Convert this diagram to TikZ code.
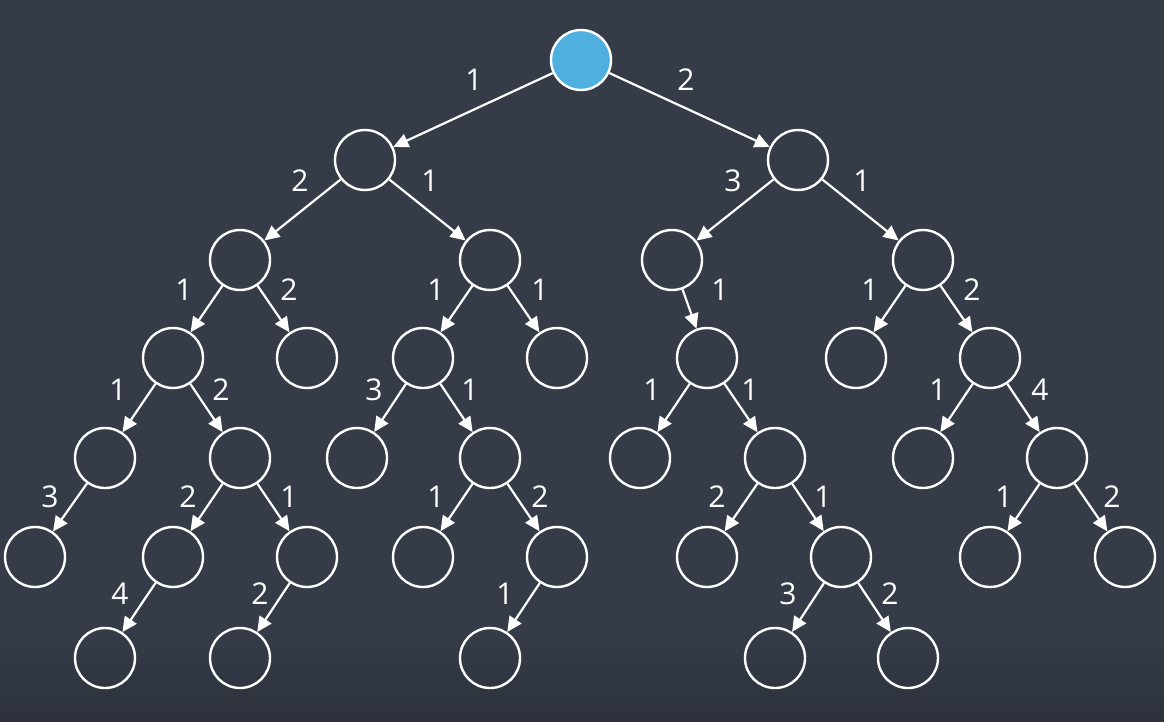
\documentclass[tikz,border=0pt]{standalone}
\usepackage{fontspec}
\setmainfont{Open Sans}
\usetikzlibrary{arrows.meta}
\definecolor{bgtop}{HTML}{353C48}
\definecolor{bgbot}{HTML}{2D323C}
\definecolor{rootblue}{HTML}{4FB0E0}
\begin{document}
\begin{tikzpicture}[x=1pt,y=-1pt,
  vert/.style={circle,draw=white,line width=2.4pt,minimum size=60pt,inner sep=0pt},
  rootvert/.style={vert,fill=rootblue},
  edge/.style={draw=white,line width=2.2pt,-{Triangle[length=15pt,width=14pt]}},
  wt/.style={text=white,font=\fontsize{30}{30}\selectfont,inner sep=0pt}]
  % background
  \fill[bgtop] (0,0) rectangle (1164,722);
  \shade[top color=bgtop,bottom color=bgbot] (0,630) rectangle (1164,722);
  \useasboundingbox (0,0) rectangle (1164,722);
  % vertices
  \node[rootvert] (r) at (581,60) {};
  \node[vert] (a) at (365,160) {};
  \node[vert] (b) at (798,160) {};
  \node[vert] (a1) at (240,260) {};
  \node[vert] (a2) at (490,260) {};
  \node[vert] (b1) at (672,260) {};
  \node[vert] (b2) at (923,260) {};
  \node[vert] (a1a) at (173,358) {};
  \node[vert] (a1b) at (307,358) {};
  \node[vert] (a2a) at (423,358) {};
  \node[vert] (a2b) at (557,358) {};
  \node[vert] (b1a) at (707,358) {};
  \node[vert] (b2a) at (856,358) {};
  \node[vert] (b2b) at (990,358) {};
  \node[vert] (c1) at (105,458) {};
  \node[vert] (c2) at (240,458) {};
  \node[vert] (c3) at (357,458) {};
  \node[vert] (c4) at (490,458) {};
  \node[vert] (c5) at (640,458) {};
  \node[vert] (c6) at (775,458) {};
  \node[vert] (c7) at (923,458) {};
  \node[vert] (c8) at (1057,458) {};
  \node[vert] (d1) at (35,557) {};
  \node[vert] (d2) at (173,557) {};
  \node[vert] (d3) at (307,557) {};
  \node[vert] (d4) at (423,557) {};
  \node[vert] (d5) at (557,557) {};
  \node[vert] (d6) at (707,557) {};
  \node[vert] (d7) at (841,557) {};
  \node[vert] (d8) at (990,557) {};
  \node[vert] (d9) at (1125,557) {};
  \node[vert] (e1) at (105,658) {};
  \node[vert] (e2) at (240,658) {};
  \node[vert] (e3) at (490,658) {};
  \node[vert] (e4) at (775,658) {};
  \node[vert] (e5) at (908,658) {};
  % edges
  \foreach \u/\v in {r/a,r/b,a/a1,a/a2,b/b1,b/b2,a1/a1a,a1/a1b,a2/a2a,a2/a2b,
    b1/b1a,b2/b2a,b2/b2b,a1a/c1,a1a/c2,a2a/c3,a2a/c4,b1a/c5,b1a/c6,b2b/c7,b2b/c8,
    c1/d1,c2/d2,c2/d3,c4/d4,c4/d5,c6/d6,c6/d7,c8/d8,c8/d9,
    d2/e1,d3/e2,d5/e3,d7/e4,d7/e5}
    \draw[edge] (\u) -- (\v);
  % weights
  \node[wt] (w1) at (474,80) {1};
  \node[wt] (w2) at (686,80) {2};
  \node[wt] (w3) at (300,181) {2};
  \node[wt] (w4) at (430,181) {1};
  \node[wt] (w5) at (733,181) {3};
  \node[wt] (w6) at (862,181) {1};
  \node[wt] (w7) at (184,290) {1};
  \node[wt] (w8) at (289,290) {2};
  \node[wt] (w9) at (436,290) {1};
  \node[wt] (w10) at (540,290) {1};
  \node[wt] (w11) at (720,290) {1};
  \node[wt] (w12) at (870,290) {1};
  \node[wt] (w13) at (972,290) {2};
  \node[wt] (w14) at (118,390) {1};
  \node[wt] (w15) at (221,390) {2};
  \node[wt] (w16) at (374,390) {3};
  \node[wt] (w17) at (470,390) {1};
  \node[wt] (w18) at (652,390) {1};
  \node[wt] (w19) at (750,390) {1};
  \node[wt] (w20) at (938,390) {1};
  \node[wt] (w21) at (1040,390) {4};
  \node[wt] (w22) at (50,497) {3};
  \node[wt] (w23) at (188,497) {2};
  \node[wt] (w24) at (289,497) {1};
  \node[wt] (w25) at (436,497) {1};
  \node[wt] (w26) at (540,497) {2};
  \node[wt] (w27) at (717,497) {2};
  \node[wt] (w28) at (823,497) {1};
  \node[wt] (w29) at (1004,497) {1};
  \node[wt] (w30) at (1112,497) {2};
  \node[wt] (w31) at (120,594) {4};
  \node[wt] (w32) at (260,594) {2};
  \node[wt] (w33) at (505,594) {1};
  \node[wt] (w34) at (788,594) {3};
  \node[wt] (w35) at (890,594) {2};
\end{tikzpicture}
\end{document}
